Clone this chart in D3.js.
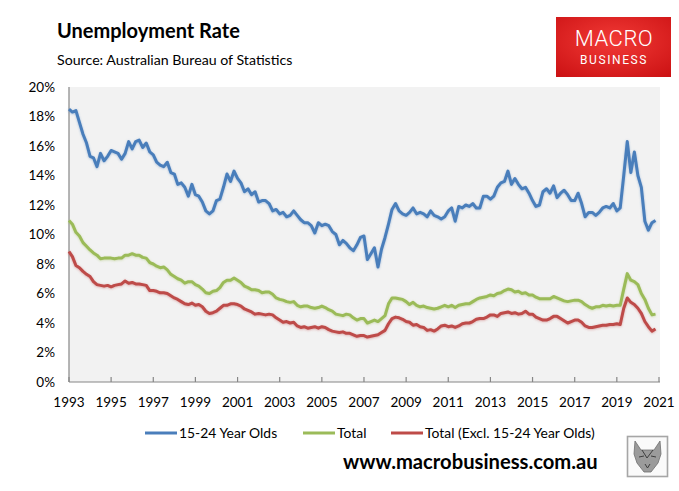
<!DOCTYPE html>
<html>
<head>
<meta charset="utf-8">
<script src="https://cdn.jsdelivr.net/npm/d3@7/dist/d3.min.js"></script>
<style>
  body { margin: 0; background: #fff; }
  svg { display: block; font-family: Lato, "Open Sans", sans-serif; }
</style>
</head>
<body>
<svg id="chart" width="679" height="491"></svg>
<script>
// Unemployment rate, %, one value every two months from Jan 1993 (rows = years)
const startYear = 1993;
const monthStep = 2;

const youth = [
  18.5, 18.3, 18.4, 17.6, 16.8, 16.2,
  15.3, 15.2, 14.6, 15.5, 15.0, 15.3,
  15.7, 15.6, 15.5, 15.1, 15.5, 16.3,
  15.8, 16.3, 16.4, 15.9, 16.2, 15.6,
  15.4, 14.9, 14.7, 14.6, 14.9, 14.2,
  14.1, 13.4, 13.5, 13.2, 12.6, 13.4,
  12.7, 12.6, 12.2, 11.6, 11.4, 11.6,
  12.3, 12.4, 13.2, 14.1, 13.6, 14.3,
  13.8, 13.5, 12.9, 13.1, 12.7, 12.9,
  12.2, 12.3, 12.3, 12.1, 11.6, 11.7,
  11.4, 11.5, 11.2, 11.3, 11.6, 11.3,
  11.0, 10.8, 10.8, 10.6, 10.1, 10.8,
  10.6, 10.7, 10.6, 10.2, 10.0, 9.3,
  9.6, 9.4, 9.1, 8.9, 9.3, 9.8,
  9.9, 8.3, 8.7, 9.1, 7.8, 9.0,
  9.8, 10.7, 11.7, 12.1, 11.6, 11.4,
  11.3, 11.5, 11.8, 11.4, 11.5, 11.4,
  11.2, 11.6, 11.3, 11.2, 11.05, 11.2,
  11.6, 11.8, 10.9, 11.9, 11.8, 12.0,
  11.9, 12.1, 11.8, 11.8, 12.6, 12.6,
  12.4, 12.6, 13.2, 13.5, 13.6, 14.3,
  13.4, 13.8, 13.4, 13.1, 13.2, 12.8,
  12.3, 11.9, 12.0, 12.9, 13.1, 12.8,
  13.3, 12.5, 12.8, 13.0, 12.7, 12.3,
  12.3, 12.8, 12.1, 11.2, 11.5, 11.5,
  11.3, 11.5, 11.8, 11.9, 11.8, 12.1,
  11.6, 11.8, 14.0, 16.3, 14.2, 15.6,
  14.0, 13.2, 10.9, 10.3, 10.8, 10.95
];

const total = [
  10.95, 10.7, 10.15, 9.9, 9.45, 9.2,
  8.95, 8.75, 8.6, 8.35, 8.4, 8.4,
  8.4, 8.35, 8.4, 8.4, 8.6, 8.6,
  8.7, 8.6, 8.6, 8.45, 8.4, 8.1,
  8.0, 7.85, 7.75, 7.8, 7.6, 7.3,
  7.15, 7.0, 6.9, 6.7, 6.8, 6.8,
  6.6, 6.5, 6.3, 6.05, 6.0, 6.15,
  6.2, 6.4, 6.75, 6.9, 6.9, 7.05,
  6.9, 6.75, 6.5, 6.4, 6.25, 6.25,
  6.2, 6.05, 6.1, 6.1, 5.95, 5.7,
  5.6, 5.55, 5.45, 5.4, 5.45, 5.2,
  5.1, 5.15, 5.15, 5.05, 5.0, 5.05,
  5.15, 5.05, 4.9, 4.8, 4.6, 4.55,
  4.5, 4.6, 4.55, 4.35, 4.2, 4.3,
  4.3, 4.0, 4.1, 4.2, 4.1, 4.3,
  4.5, 5.3, 5.7, 5.7, 5.65, 5.6,
  5.45, 5.25, 5.4, 5.2, 5.1, 5.15,
  5.05, 5.0, 4.95, 5.0, 5.1, 5.2,
  5.1, 5.2, 5.05, 5.2, 5.25, 5.3,
  5.3, 5.45, 5.6, 5.7, 5.75, 5.8,
  5.9, 5.85, 6.0, 6.05, 6.2, 6.3,
  6.25, 6.1, 6.15, 6.0, 6.05, 5.9,
  5.9, 5.75, 5.65, 5.65, 5.65, 5.65,
  5.8, 5.7, 5.6, 5.5, 5.45, 5.5,
  5.55, 5.55, 5.45, 5.25, 5.1, 5.0,
  5.1, 5.1, 5.2, 5.15, 5.2, 5.15,
  5.2, 5.2, 6.3, 7.35, 6.9, 6.8,
  6.6, 6.0, 5.6, 5.0, 4.55, 4.6
];

const exclYouth = [
  8.85, 8.5, 7.9, 7.75, 7.5, 7.3,
  7.15, 6.8, 6.6, 6.55, 6.5, 6.55,
  6.45, 6.55, 6.6, 6.65, 6.85, 6.7,
  6.75, 6.65, 6.65, 6.6, 6.55, 6.2,
  6.2, 6.15, 6.05, 6.05, 6.0, 5.85,
  5.7, 5.6, 5.45, 5.3, 5.25, 5.35,
  5.2, 5.25, 5.1, 4.8, 4.65, 4.7,
  4.8, 5.0, 5.2, 5.2, 5.3, 5.3,
  5.25, 5.15, 4.95, 4.85, 4.75, 4.6,
  4.65, 4.6, 4.55, 4.6, 4.55, 4.35,
  4.2, 4.05, 4.1, 4.0, 4.05, 3.8,
  3.7, 3.75, 3.65, 3.7, 3.75, 3.65,
  3.75, 3.7, 3.55, 3.45, 3.4, 3.35,
  3.4, 3.3, 3.3, 3.2, 3.1, 3.15,
  3.15, 3.05, 3.1, 3.15, 3.2, 3.35,
  3.5, 3.95, 4.3, 4.4, 4.35, 4.25,
  4.1, 4.05, 3.85, 3.9, 3.75, 3.7,
  3.5, 3.55, 3.45, 3.6, 3.8, 3.85,
  3.75, 3.8, 3.7, 3.8, 3.95, 4.0,
  4.0, 4.1, 4.25, 4.3, 4.3, 4.4,
  4.55, 4.55, 4.45, 4.65, 4.7, 4.75,
  4.65, 4.7, 4.6, 4.65, 4.8, 4.6,
  4.6, 4.4, 4.3, 4.2, 4.2, 4.3,
  4.45, 4.45, 4.3, 4.15, 4.0, 4.1,
  4.2, 4.2, 4.05, 3.8, 3.7, 3.7,
  3.75, 3.8, 3.85, 3.85, 3.9, 3.9,
  3.95, 3.9, 5.0, 5.7, 5.4, 5.25,
  5.0, 4.65, 4.1, 3.75, 3.45, 3.6
];

const seriesNames = ["15-24 Year Olds", "Total", "Total (Excl. 15-24 Year Olds)"];
const seriesColors = ["#4a7ebb", "#9bbb59", "#be4b48"];
const yTicks = [0, 2, 4, 6, 8, 10, 12, 14, 16, 18, 20];
const xTickYears = [1993, 1995, 1997, 1999, 2001, 2003, 2005, 2007, 2009, 2011, 2013, 2015, 2017, 2019, 2021];

const svg = d3.select("#chart");
const plot = { left: 69, right: 659, top: 87, bottom: 382 };

const x = d3.scaleTime()
    .domain([new Date(1993, 0, 1), new Date(2021, 0, 1)])
    .range([plot.left, plot.right]);
const y = d3.scaleLinear().domain([0, 20]).range([plot.bottom, plot.top]);

// soft glow like the spreadsheet line shadow
const defs = svg.append("defs");
seriesColors.forEach((c, i) => {
    defs.append("filter")
        .attr("id", "glow" + i)
        .attr("x", "-5%").attr("y", "-5%").attr("width", "110%").attr("height", "110%")
        .append("feDropShadow")
        .attr("dx", 0).attr("dy", 0.6)
        .attr("stdDeviation", 1.1)
        .attr("flood-color", c)
        .attr("flood-opacity", 0.45);
});
const logoGrad = defs.append("radialGradient").attr("id", "logoGrad")
    .attr("cx", "50%").attr("cy", "40%").attr("r", "75%");
logoGrad.append("stop").attr("offset", "0%").attr("stop-color", "#f23a36");
logoGrad.append("stop").attr("offset", "100%").attr("stop-color", "#cc1214");

// title
svg.append("text").attr("x", 57).attr("y", 38)
    .attr("font-size", 20).attr("font-weight", 700).attr("fill", "#000")
    .text("Unemployment Rate");
svg.append("text").attr("x", 57).attr("y", 65)
    .attr("font-size", 14.2).attr("fill", "#000")
    .text("Source: Australian Bureau of Statistics");

// logo
const logo = svg.append("g");
logo.append("rect").attr("x", 556).attr("y", 17).attr("width", 115).attr("height", 60)
    .attr("fill", "url(#logoGrad)");
logo.append("text").attr("x", 614).attr("y", 46).attr("text-anchor", "middle")
    .attr("font-family", "Roboto, sans-serif").attr("font-weight", 300)
    .attr("font-size", 22).attr("letter-spacing", 0.5).attr("fill", "#fff").text("MACRO");
logo.append("text").attr("x", 614).attr("y", 64).attr("text-anchor", "middle")
    .attr("font-family", "Roboto, sans-serif").attr("font-weight", 400)
    .attr("font-size", 12).attr("letter-spacing", 1.6).attr("fill", "#fff").text("BUSINESS");

// plot background
svg.append("rect")
    .attr("x", plot.left).attr("y", plot.top)
    .attr("width", plot.right + 1 - plot.left).attr("height", plot.bottom - plot.top)
    .attr("fill", "#f2f2f2");

// y labels
svg.append("g").selectAll("text")
    .data(yTicks)
    .enter().append("text")
    .attr("x", 55)
    .attr("y", d => y(d))
    .attr("dy", "0.35em")
    .attr("text-anchor", "end")
    .attr("font-size", 13.5)
    .attr("fill", "#000")
    .text(d => d + "%");

// axes lines
svg.append("line").attr("x1", plot.left).attr("x2", plot.left)
    .attr("y1", plot.top).attr("y2", plot.bottom)
    .attr("stroke", "#868686").attr("stroke-width", 1.2);
svg.append("line").attr("x1", plot.left).attr("x2", plot.right + 1)
    .attr("y1", plot.bottom).attr("y2", plot.bottom)
    .attr("stroke", "#868686").attr("stroke-width", 1.2);

// x ticks (inside) and labels
const xTicks = svg.append("g").selectAll("g")
    .data(xTickYears)
    .enter().append("g")
    .attr("transform", d => `translate(${x(new Date(d, 0, 1))},0)`);
xTicks.append("line")
    .attr("y1", plot.bottom - 5).attr("y2", plot.bottom)
    .attr("stroke", "#868686").attr("stroke-width", 1.2);
xTicks.append("text")
    .attr("y", 407)
    .attr("text-anchor", "middle")
    .attr("font-size", 13.5)
    .attr("fill", "#000")
    .text(d => d);

// lines
const dateOf = i => new Date(startYear, i * monthStep, 1);
const line = d3.line()
    .x((d, i) => x(dateOf(i)))
    .y(d => y(d));

[youth, total, exclYouth].forEach((vals, i) => {
    svg.append("path")
        .datum(vals)
        .attr("d", line)
        .attr("fill", "none")
        .attr("stroke", seriesColors[i])
        .attr("stroke-width", 3)
        .attr("stroke-linejoin", "round")
        .attr("filter", `url(#glow${i})`);
});

// legend
const legendX = [145, 303, 391];
const legend = svg.append("g").selectAll("g")
    .data(seriesNames)
    .enter().append("g")
    .attr("transform", (d, i) => `translate(${legendX[i]},433)`);
legend.append("line")
    .attr("x1", 0).attr("x2", 32)
    .attr("stroke", (d, i) => seriesColors[i])
    .attr("stroke-width", 3);
legend.append("text")
    .attr("x", 34)
    .attr("dy", "0.35em")
    .attr("font-size", 13.9)
    .attr("fill", "#000")
    .text(d => d);

// website
svg.append("text").attr("x", 343).attr("y", 469)
    .attr("font-size", 20.2).attr("font-weight", 700).attr("fill", "#000")
    .text("www.macrobusiness.com.au");

// small wolf badge
const badge = svg.append("g").attr("transform", "translate(627,436)");
badge.append("rect").attr("x", 0.5).attr("y", 0.5).attr("width", 40).attr("height", 40)
    .attr("fill", "#fafafa").attr("stroke", "#a6a6a6").attr("stroke-width", 1.6);
badge.append("path")
    .attr("d", "M8,5 L14,14 L27,14 L33,5 L34,18 L31,27 L24,36 L17,36 L10,27 L7,18 Z")
    .attr("fill", "#9b9b9b").attr("stroke", "#6e6e6e").attr("stroke-width", 0.8);
badge.append("path")
    .attr("d", "M12,21 L17,20 M24,20 L29,21 M18,28 L20.5,32 L23,28 M15,14 L20,22 L26,14")
    .attr("fill", "none").attr("stroke", "#3e3e3e").attr("stroke-width", 1);
</script>
</body>
</html>
